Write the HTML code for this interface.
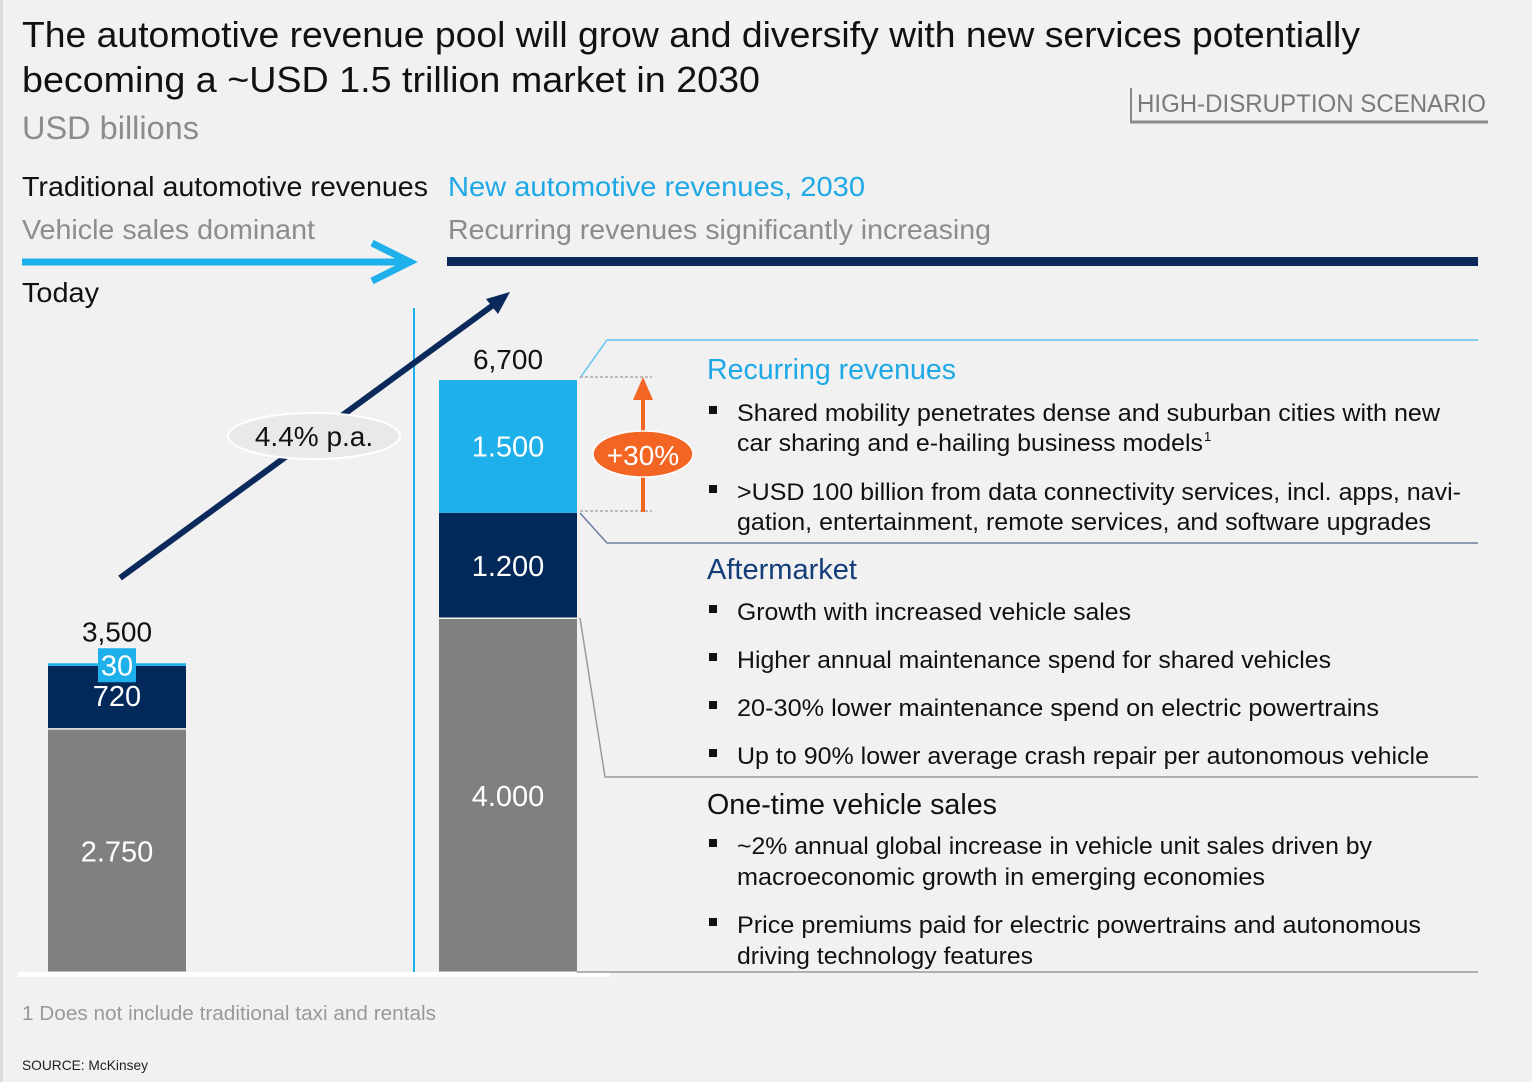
<!DOCTYPE html>
<html><head><meta charset="utf-8"><style>
html,body{margin:0;padding:0;background:#f1f1f1}
svg{display:block;font-family:"Liberation Sans",Arial,sans-serif}
</style></head><body>
<svg width="1532" height="1082" viewBox="0 0 1532 1082">
<rect x="0" y="0" width="1532" height="1082" fill="#f1f1f1"/>
<rect x="0" y="0" width="3" height="1082" fill="#dcdcdc"/>
<g font-size="36" fill="#111">
<text x="22" y="47" textLength="1338" lengthAdjust="spacingAndGlyphs">The automotive revenue pool will grow and diversify with new services potentially</text>
<text x="22" y="92" textLength="738" lengthAdjust="spacingAndGlyphs">becoming a ~USD 1.5 trillion market in 2030</text>
<text x="22" y="139" font-size="32" fill="#8c8c8c" textLength="177" lengthAdjust="spacingAndGlyphs">USD billions</text>
</g>
<g>
<line x1="1131" y1="88" x2="1131" y2="122" stroke="#888" stroke-width="2"/>
<line x1="1130" y1="122" x2="1488" y2="122" stroke="#8a8a8a" stroke-width="3"/>
<text x="1137" y="112" font-size="25" fill="#7a7a7a" textLength="349" lengthAdjust="spacingAndGlyphs">HIGH-DISRUPTION SCENARIO</text>
</g>
<g font-size="28">
<text x="22" y="196" fill="#111" textLength="406" lengthAdjust="spacingAndGlyphs">Traditional automotive revenues</text>
<text x="448" y="196" fill="#1ea8e6" textLength="417" lengthAdjust="spacingAndGlyphs">New automotive revenues, 2030</text>
<text x="22" y="239" fill="#8c8c8c" textLength="293" lengthAdjust="spacingAndGlyphs">Vehicle sales dominant</text>
<text x="448" y="239" fill="#8c8c8c" textLength="543" lengthAdjust="spacingAndGlyphs">Recurring revenues significantly increasing</text>
<text x="22" y="302" fill="#111" textLength="77" lengthAdjust="spacingAndGlyphs">Today</text>
</g>
<g>
<line x1="22" y1="262" x2="404" y2="262" stroke="#1eb0ea" stroke-width="7"/>
<polyline points="372,243 410,262 372,281" fill="none" stroke="#1eb0ea" stroke-width="7"/>
<rect x="447" y="257" width="1031" height="9" fill="#0b2a5b"/>
</g>
<line x1="414" y1="308" x2="414" y2="975" stroke="#1eb0ea" stroke-width="2"/>
<rect x="18" y="972" width="592" height="5" fill="#ffffff"/>
<g fill="none">
<polyline points="580,378 607,340 1478,340" stroke="#5fc3ef" stroke-width="1.5"/>
<polyline points="580,513 607,543 1478,543" stroke="#6b7f9e" stroke-width="1.5"/>
<polyline points="580,618 605,777 1478,777" stroke="#9a9a9a" stroke-width="1.5"/>
<line x1="577" y1="972" x2="1478" y2="972" stroke="#9a9a9a" stroke-width="1.5"/>
<line x1="580" y1="377" x2="652" y2="377" stroke="#aaa" stroke-width="1.5" stroke-dasharray="3,2"/>
<line x1="580" y1="511" x2="652" y2="511" stroke="#aaa" stroke-width="1.5" stroke-dasharray="3,2"/>
</g>
<g id="bars"></g>
<g>
<line x1="120" y1="578" x2="496" y2="303" stroke="#0b2a5b" stroke-width="6"/>
<polygon points="510,292 486,299 498,314" fill="#0b2a5b"/>
<ellipse cx="314" cy="436" rx="86" ry="23" fill="#e8e9e9" stroke="#fff" stroke-width="2"/>
<text x="314" y="446" font-size="28" text-anchor="middle" fill="#111">4.4% p.a.</text>
</g>
<g>
<line x1="643" y1="512" x2="643" y2="398" stroke="#f26522" stroke-width="4"/>
<polygon points="643,377 633,400 653,400" fill="#f26522"/>
<ellipse cx="643" cy="454" rx="50" ry="23" fill="#f26522" stroke="#fff" stroke-width="1.5"/>
<text x="643" y="465" font-size="28" text-anchor="middle" fill="#fff">+30%</text>
</g>
<g font-size="24" fill="#111">
<text x="707" y="379" font-size="29" fill="#1ea8e6" textLength="249" lengthAdjust="spacingAndGlyphs">Recurring revenues</text>
<text x="737" y="421" textLength="703" lengthAdjust="spacingAndGlyphs">Shared mobility penetrates dense and suburban cities with new</text>
<text x="737" y="451" textLength="466" lengthAdjust="spacingAndGlyphs">car sharing and e-hailing business models</text>
<text x="1204" y="441" font-size="13">1</text>
<text x="737" y="500" textLength="724" lengthAdjust="spacingAndGlyphs">&gt;USD 100 billion from data connectivity services, incl. apps, navi-</text>
<text x="737" y="530" textLength="694" lengthAdjust="spacingAndGlyphs">gation, entertainment, remote services, and software upgrades</text>
<text x="707" y="579" font-size="29" fill="#123d78" textLength="150" lengthAdjust="spacingAndGlyphs">Aftermarket</text>
<text x="737" y="620" textLength="394" lengthAdjust="spacingAndGlyphs">Growth with increased vehicle sales</text>
<text x="737" y="668" textLength="594" lengthAdjust="spacingAndGlyphs">Higher annual maintenance spend for shared vehicles</text>
<text x="737" y="716" textLength="642" lengthAdjust="spacingAndGlyphs">20-30% lower maintenance spend on electric powertrains</text>
<text x="737" y="764" textLength="692" lengthAdjust="spacingAndGlyphs">Up to 90% lower average crash repair per autonomous vehicle</text>
<text x="707" y="814" font-size="29" textLength="290" lengthAdjust="spacingAndGlyphs">One-time vehicle sales</text>
<text x="737" y="854" textLength="635" lengthAdjust="spacingAndGlyphs">~2% annual global increase in vehicle unit sales driven by</text>
<text x="737" y="885" textLength="528" lengthAdjust="spacingAndGlyphs">macroeconomic growth in emerging economies</text>
<text x="737" y="933" textLength="684" lengthAdjust="spacingAndGlyphs">Price premiums paid for electric powertrains and autonomous</text>
<text x="737" y="964" textLength="296" lengthAdjust="spacingAndGlyphs">driving technology features</text>
<g fill="#111">
<rect x="709" y="406" width="8" height="8"/><rect x="709" y="485" width="8" height="8"/>
<rect x="709" y="605" width="8" height="8"/><rect x="709" y="653" width="8" height="8"/>
<rect x="709" y="701" width="8" height="8"/><rect x="709" y="749" width="8" height="8"/>
<rect x="709" y="839" width="8" height="8"/><rect x="709" y="918" width="8" height="8"/>
</g>
</g>
<text x="22" y="1020" font-size="20" fill="#999" textLength="414" lengthAdjust="spacingAndGlyphs">1 Does not include traditional taxi and rentals</text>
<text x="22" y="1070" font-size="14" fill="#222" textLength="126" lengthAdjust="spacingAndGlyphs">SOURCE: McKinsey</text>
</svg>
<script>
const segments = ['vehicle-sales','aftermarket','recurring'];
const todayValues = [2750, 720, 30];
const futureValues = [4000, 1200, 1500];
const todayLabels = ['2.750','720','30'];
const futureLabels = ['4.000','1.200','1.500'];
const totals = ['3,500','6,700'];
const colors = ['#808080','#03285a','#1eb0ea'];
const baseY = 973, pxPer = 0.0885;
function yScale(v){ return baseY - v*pxPer; }
const NS = 'http://www.w3.org/2000/svg';
const g = document.getElementById('bars');
function drawBar(vals, labels, x, w, total, idx){
  let cum = 0;
  vals.forEach((v,i)=>{
    const y0 = yScale(cum), y1 = yScale(cum+v);
    const r = document.createElementNS(NS,'rect');
    r.setAttribute('x', x); r.setAttribute('y', y1);
    r.setAttribute('width', w); r.setAttribute('height', Math.max(y0-y1-(i<vals.length-1&&v>100?1.5:0),1));
    r.setAttribute('fill', colors[i]);
    
    
    g.appendChild(r);
    const cx = x + w/2;
    if (v < 100) {
      const bg = document.createElementNS(NS,'rect');
      bg.setAttribute('x', cx-19); bg.setAttribute('y', y1-15);
      bg.setAttribute('width', 38); bg.setAttribute('height', 34);
      bg.setAttribute('fill', colors[i]);
      
      
      g.appendChild(bg);
    }
    const t = document.createElementNS(NS,'text');
    t.setAttribute('x', cx);
    t.setAttribute('y', v < 100 ? y1+12 : (y0+y1)/2 + (v<1000? 8 : 10));
    t.setAttribute('text-anchor','middle'); t.setAttribute('font-size','29'); t.setAttribute('fill','#fff');
    t.textContent = labels[i];
    
    
    g.appendChild(t);
    cum += v;
  });
  const tt = document.createElementNS(NS,'text');
  tt.setAttribute('x', x + w/2); tt.setAttribute('y', yScale(cum) - (idx===0?22:11));
  tt.setAttribute('text-anchor','middle'); tt.setAttribute('font-size','28'); tt.setAttribute('fill','#111');
  tt.textContent = total;
  
  
  g.appendChild(tt);
}
drawBar(todayValues, todayLabels, 48, 138, totals[0], 0);
drawBar(futureValues, futureLabels, 439, 138, totals[1], 1);
</script>
</body></html>
